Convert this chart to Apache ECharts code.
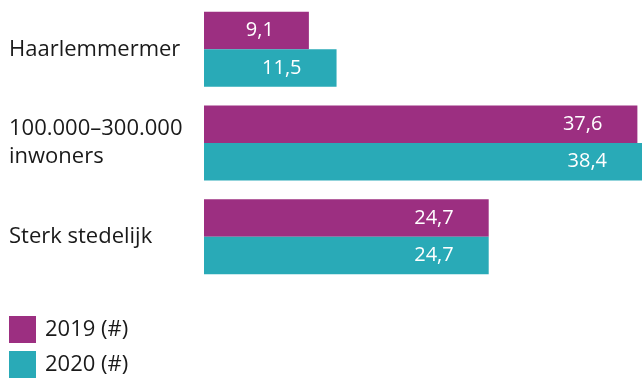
<!DOCTYPE html>
<html>
<head>
<meta charset="utf-8">
<script src="https://cdn.jsdelivr.net/npm/echarts@6/dist/echarts.min.js"></script>
<style>
  html, body { margin: 0; padding: 0; background: #fff; }
  #chart { width: 642px; height: 380px; }
</style>
</head>
<body>
<div id="chart"></div>
<script>
  let categories = ['Haarlemmermer', '100.000–300.000\ninwoners', 'Sterk stedelijk'];
  let seriesNames = ['2019 (#)', '2020 (#)'];
  let values2019 = [9.1, 37.6, 24.7];
  let values2020 = [11.5, 38.4, 24.7];

  let purple = '#9c2f81';
  let teal = '#29aab7';
  let font = 'Open Sans';

  let label = {
    show: true,
    position: 'insideRight',
    distance: 35,
    color: '#fff',
    fontFamily: font,
    fontSize: 20,
    formatter: p => String(p.value).replace('.', ',')
  };

  let chart = echarts.init(document.getElementById('chart'));
  chart.setOption({
    animation: false,
    grid: {
      left: 204,
      right: 0,
      top: 2.5,
      height: 281
    },
    legend: {
      orient: 'vertical',
      left: 9,
      top: 316,
      padding: 0,
      itemWidth: 27,
      itemHeight: 27,
      itemGap: 8,
      icon: 'rect',
      data: seriesNames,
      textStyle: {
        fontFamily: font,
        fontSize: 22,
        lineHeight: 22,
        color: '#1a1a1a',
        padding: [5, 0, 0, 4]
      }
    },
    xAxis: {
      type: 'value',
      min: 0,
      max: 38,
      show: false
    },
    yAxis: {
      type: 'category',
      inverse: true,
      data: categories,
      axisLine: {show: false},
      axisTick: {show: false},
      axisLabel: {
        align: 'left',
        margin: 195,
        fontFamily: font,
        fontSize: 22,
        lineHeight: 28,
        color: '#1a1a1a'
      }
    },
    series: [
      {
        name: seriesNames[0],
        type: 'bar',
        data: values2019,
        barWidth: '40%',
        barGap: 0,
        itemStyle: {color: purple},
        label: label
      },
      {
        name: seriesNames[1],
        type: 'bar',
        data: values2020,
        barWidth: '40%',
        barGap: 0,
        itemStyle: {color: teal},
        label: label
      }
    ]
  });
</script>
</body>
</html>
